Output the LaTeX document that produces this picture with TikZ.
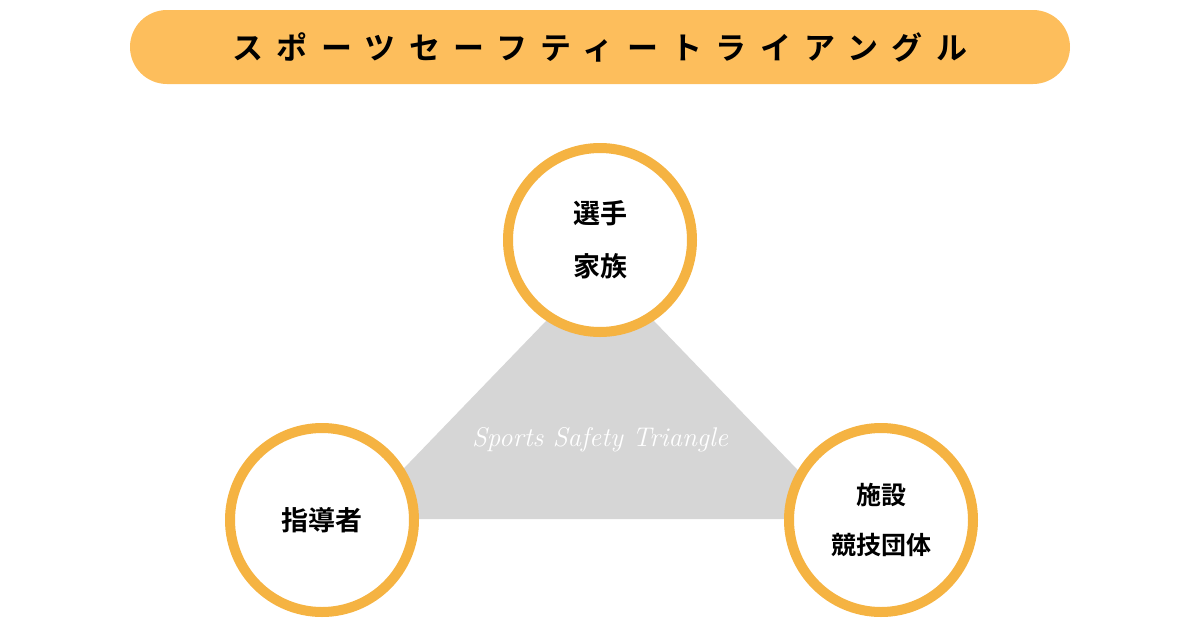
\documentclass[tikz,border=0pt]{standalone}
\usepackage{fontspec}
\newfontfamily\jpfont{Noto Sans CJK JP}[BoldFont={Noto Sans CJK JP Bold}]
\usetikzlibrary{positioning}
\usepackage{xcolor}
\definecolor{ringorange}{HTML}{F5B342}
\definecolor{barorange}{HTML}{FDBE5C}
\definecolor{trigray}{HTML}{D6D6D6}

\begin{document}
\begin{tikzpicture}[x=1pt, y=-1pt]
\tikzstyle{bar} = [rectangle, rounded corners=37pt, fill=barorange,
    minimum width=940pt, minimum height=74pt, inner sep=0pt]
\tikzstyle{ring} = [circle, draw=ringorange, line width=10pt, fill=white,
    minimum size=184pt, inner sep=0pt, align=center,
    font=\jpfont\bfseries\fontsize{27}{53}\selectfont]

\useasboundingbox (0,0) rectangle (1200,630);

\node (title) [bar] at (600,47) {\jpfont\bfseries\fontsize{31}{31}\selectfont
    \addfontfeature{LetterSpace=43}スポーツセーフティートライアングル};

\coordinate (apex) at (600,265);
\coordinate (baseL) at (355,519);
\coordinate (baseR) at (845,519);
\fill[trigray] (apex) -- (baseL) -- (baseR) -- cycle;
\node (motto) at (600,440) [text=white, font=\itshape\fontsize{27}{27}\selectfont] {Sports Safety Triangle};

\node (player) [ring] at (600,240) {選手\\家族};
\node (coach) [ring] at (322,520) {指導者};
\node (venue) [ring, right=365pt of coach, font=\jpfont\bfseries\fontsize{25}{50}\selectfont] {施設\\競技団体};
\end{tikzpicture}
\end{document}
